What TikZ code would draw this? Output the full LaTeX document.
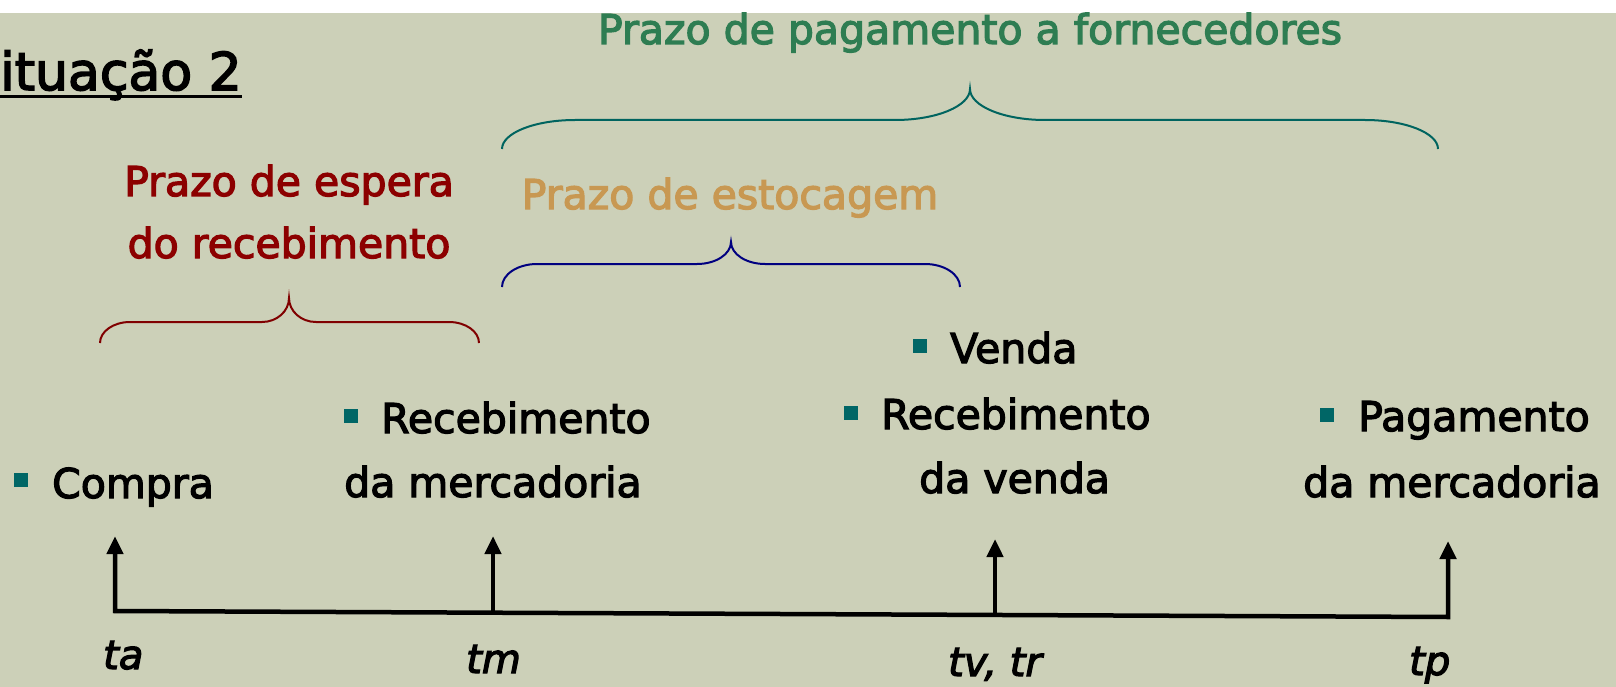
\documentclass[tikz,border=0pt]{standalone}
\usepackage{fontspec}
\setmainfont{DejaVu Sans}[BoldFont=DejaVu Sans, BoldFeatures={FakeBold=3},
  BoldItalicFont=DejaVu Sans Oblique, BoldItalicFeatures={FakeBold=3}]
\usetikzlibrary{arrows.meta}
\definecolor{bgc}{RGB}{204,208,184}
\definecolor{txtgreen}{RGB}{46,125,82}
\definecolor{txtred}{RGB}{140,0,0}
\definecolor{txtorange}{RGB}{200,152,82}
\definecolor{bullc}{RGB}{0,102,102}
\definecolor{bracered}{RGB}{128,0,0}
\definecolor{braceblue}{RGB}{0,0,128}
\definecolor{braceteal}{RGB}{0,100,95}
\newcommand\mybrc[9]{%
  \draw[#1] (#2,#5) .. controls (#2,{#6+0.448*(#5-#6)}) and ({#2+0.448*#8},#6) .. ({#2+#8},#6)
    -- ({#3-#9},#6) .. controls ({#3-0.448*#9},#6) and (#3,{#6-0.448*(#6-#7)}) .. (#3,#7)
    .. controls (#3,{#6-0.448*(#6-#7)}) and ({#3+0.448*#9},#6) .. ({#3+#9},#6)
    -- ({#4-#8},#6) .. controls ({#4-0.448*#8},#6) and (#4,{#6+0.448*(#5-#6)}) .. (#4,#5);}
\begin{document}
\begin{tikzpicture}[x=1pt,y=-1pt,
  lbl/.style={inner sep=0pt, anchor=base west, font=\fontsize{41}{49}\selectfont\bfseries},
  head/.style={inner sep=0pt, anchor=base, font=\fontsize{41}{49}\selectfont\bfseries},
  tlab/.style={inner sep=0pt, anchor=base west, font=\fontsize{40}{48}\selectfont\bfseries\itshape},
  bul/.style={rectangle, fill=bullc, minimum size=14pt, inner sep=0pt},
  axis/.style={line width=4.5pt, line cap=butt, line join=miter},
  tip/.style={-{Triangle[length=18pt,width=16pt]}},
  brc/.style={line width=2pt}]
\fill[white] (0,0) rectangle (1616,687);
\fill[bgc] (0,13) rectangle (1616,687);
\useasboundingbox (0,0) rectangle (1616,687);

% title
\node[inner sep=0pt, anchor=base west, font=\fontsize{52}{60}\selectfont\bfseries] (ttl) at (0,90) {ituação 2};
\draw[line width=3pt] ([yshift=-7pt]ttl.base west) -- ([yshift=-7pt]ttl.base east);

% headings
\node[head, text=txtgreen] (pgf) at (970,44) {Prazo de pagamento a fornecedores};
\node[head, text=txtred] (per1) at (289,196) {Prazo de espera};
\node[head, text=txtred] (per2) at (289,258) {do recebimento};
\node[head, text=txtorange] (est) at (730,209) {Prazo de estocagem};

% braces
\mybrc{brc, braceteal}{502}{970}{1438}{149}{120}{89}{73}{75}
\mybrc{brc, braceblue}{502}{731}{960}{287}{264}{242}{35}{34}
\mybrc{brc, bracered}{100}{289}{479}{343}{322}{298}{30}{27}

% events
\node[bul] (b1) at (21,480) {};
\node[lbl] (compra) at (52,498) {Compra};
\node[bul] (b2) at (351,416) {};
\node[lbl] (rec1) at (381,433) {Recebimento};
\node[lbl] (merc1) at (344,497) {da mercadoria};
\node[bul] (b3) at (920,346) {};
\node[lbl] (venda) at (950,363) {Venda};
\node[bul] (b4) at (851,413) {};
\node[lbl] (rec2) at (881,429) {Recebimento};
\node[lbl] (dven) at (919,493) {da venda};
\node[bul] (b5) at (1327,415) {};
\node[lbl] (pag) at (1358,431) {Pagamento};
\node[lbl] (merc2) at (1303,497) {da mercadoria};

% timeline
\coordinate (ta) at (115,611);
\coordinate (tm) at (493,613);
\coordinate (tv) at (995,615);
\coordinate (tp) at (1448,617);
\coordinate (taT) at (115,536);
\coordinate (tmT) at (493,536);
\coordinate (tvT) at (995,539);
\coordinate (tpT) at (1448,541);
\draw[axis, {Triangle[length=18pt,width=16pt]}-{Triangle[length=18pt,width=16pt]}] (taT) -- (ta) -- (tp) -- (tpT);
\draw[axis, tip] (tm) -- (tmT);
\draw[axis, tip] (tv) -- (tvT);

\node[tlab] (lta) at (103,669) {ta};
\node[tlab] (ltm) at (466,673) {tm};
\node[tlab] (ltv) at (948,676) {tv, tr};
\node[tlab] (ltp) at (1409,675) {tp};
\end{tikzpicture}
\end{document}
